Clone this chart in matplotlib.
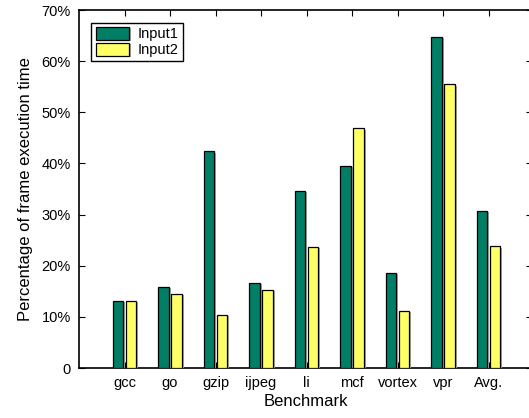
import matplotlib
matplotlib.use("Agg")
import matplotlib.pyplot as plt
import matplotlib.patheffects as pe
import numpy as np

categories = ["gcc", "go", "gzip", "ijpeg", "li", "mcf", "vortex", "vpr", "Avg."]
input1 = [13.1, 15.9, 42.4, 16.7, 34.7, 39.5, 18.6, 64.8, 30.7]
input2 = [13.1, 14.5, 10.4, 15.25, 23.7, 46.9, 11.2, 55.5, 23.8]
ytick_vals = [0, 10, 20, 30, 40, 50, 60, 70]
ytick_labels = ["0", "10%", "20%", "30%", "40%", "50%", "60%", "70%"]

plt.rcParams['font.family'] = ['Liberation Sans', 'DejaVu Sans']

W, H = 529, 418
fig = plt.figure(figsize=(W / 100, H / 100), dpi=100)
ax_w = 453
ax = fig.add_axes([79 / W, 1 - 368 / H, ax_w / W, 358 / H])

x = np.arange(1, len(categories) + 1)
bw = 0.235
off = 0.143
shadow = [pe.SimplePatchShadow(offset=(1.2, -1.0), shadow_rgbFace='0.65', alpha=1.0), pe.Normal()]
b1 = ax.bar(x - off, input1, bw, color='#007F66', edgecolor='black', linewidth=0.9,
            label='Input1', zorder=3)
b2 = ax.bar(x + off, input2, bw, color='#FFFF66', edgecolor='black', linewidth=0.9,
            label='Input2', zorder=3)
for b in list(b1) + list(b2):
    b.set_path_effects(shadow)

ax.set_xlim(0, ax_w / 45.5)
ax.set_ylim(0, 70)
ax.set_xticks(x)
ax.set_xticklabels(categories, fontsize=10.5)
ax.set_yticks(ytick_vals)
ax.set_yticklabels(ytick_labels, fontsize=10.5)
ax.tick_params(axis='both', direction='in', length=4, width=0.8, top=True, right=True, pad=6)
for s in ax.spines.values():
    s.set_linewidth(1.2)

ax.set_xlabel("Benchmark", fontsize=12, labelpad=3)
ax.set_ylabel("Percentage of frame execution time", fontsize=12, labelpad=6)

leg = ax.legend(loc='upper left', bbox_to_anchor=(0.027, 0.965), fontsize=10.5,
                fancybox=False, edgecolor='black', framealpha=1,
                handlelength=2.3, handleheight=1.0, borderpad=0.3, labelspacing=0.08,
                handletextpad=0.6, borderaxespad=0)
leg.get_frame().set_linewidth(1.0)

fig.savefig("out.png", dpi=100)
